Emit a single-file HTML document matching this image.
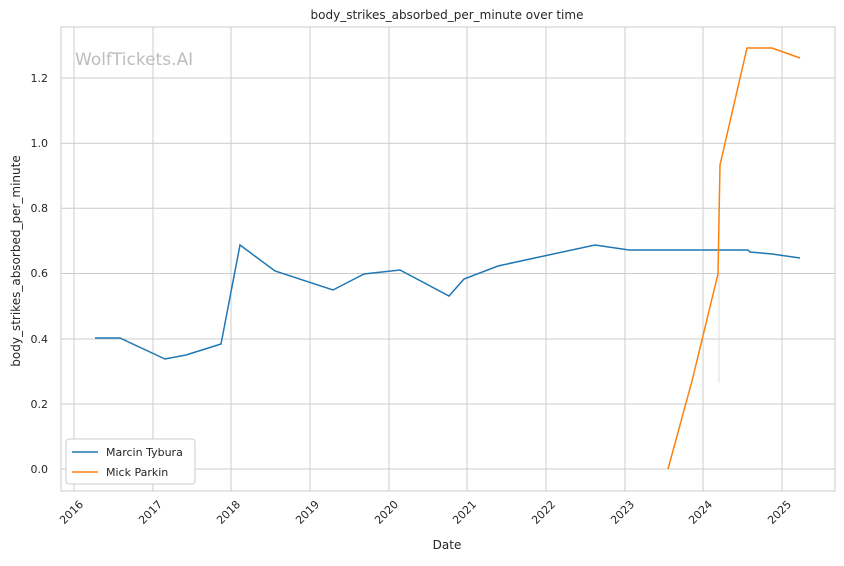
<!DOCTYPE html>
<html><head><meta charset="utf-8"><style>
body{margin:0;background:#fff;}
svg text{font-family:"DejaVu Sans","Liberation Sans",sans-serif;fill:#262626;}
</style></head><body>
<svg width="844" height="561" viewBox="0 0 844 561" xmlns="http://www.w3.org/2000/svg">
<rect width="844" height="561" fill="#fff"/>
<g stroke="#cccccc" stroke-width="1">
<line x1="74" y1="27" x2="74" y2="491"/><line x1="153" y1="27" x2="153" y2="491"/>
<line x1="231" y1="27" x2="231" y2="491"/><line x1="310" y1="27" x2="310" y2="491"/>
<line x1="389" y1="27" x2="389" y2="491"/><line x1="467" y1="27" x2="467" y2="491"/>
<line x1="546" y1="27" x2="546" y2="491"/><line x1="625" y1="27" x2="625" y2="491"/>
<line x1="703" y1="27" x2="703" y2="491"/><line x1="782" y1="27" x2="782" y2="491"/>
<line x1="61" y1="469" x2="835" y2="469"/><line x1="61" y1="404" x2="835" y2="404"/>
<line x1="61" y1="339" x2="835" y2="339"/><line x1="61" y1="273.5" x2="835" y2="273.5"/>
<line x1="61" y1="208.3" x2="835" y2="208.3"/><line x1="61" y1="143.2" x2="835" y2="143.2"/>
<line x1="61" y1="78" x2="835" y2="78"/>
</g>
<rect x="61" y="27" width="774" height="464" fill="none" stroke="#cccccc" stroke-width="1"/>
<text x="75" y="65" font-size="17" style="fill:#bdbdbd">WolfTickets.AI</text>
<line x1="719" y1="274" x2="719" y2="383" stroke="#dddddd" stroke-width="1"/>
<polyline fill="none" stroke="#1f77b4" stroke-width="1.5" points="95,338 120,338 165,359 186,355 221,344 240,245 275,271 333,290 364,274 400,270 449,296 464,279 498,266 530,259 595,245 629,250 700,250 748,250 750,252 772,254 800,258"/>
<polyline fill="none" stroke="#ff7f0e" stroke-width="1.5" points="668,469 692,381 718,274 720,165 747,48 772,48 800,58"/>
<g font-size="11" text-anchor="end">
<text x="48" y="473">0.0</text><text x="48" y="408">0.2</text><text x="48" y="343">0.4</text>
<text x="48" y="277">0.6</text><text x="48" y="212">0.8</text><text x="48" y="147">1.0</text><text x="48" y="82">1.2</text>
</g>
<g font-size="11" text-anchor="end">
<text transform="translate(84,505) rotate(-45)">2016</text>
<text transform="translate(163,505) rotate(-45)">2017</text>
<text transform="translate(241,505) rotate(-45)">2018</text>
<text transform="translate(320,505) rotate(-45)">2019</text>
<text transform="translate(399,505) rotate(-45)">2020</text>
<text transform="translate(477,505) rotate(-45)">2021</text>
<text transform="translate(556,505) rotate(-45)">2022</text>
<text transform="translate(635,505) rotate(-45)">2023</text>
<text transform="translate(713,505) rotate(-45)">2024</text>
<text transform="translate(792,505) rotate(-45)">2025</text>
</g>
<text x="447" y="549" font-size="12" text-anchor="middle">Date</text>
<text transform="translate(20,261) rotate(-90)" font-size="12" text-anchor="middle">body_strikes_absorbed_per_minute</text>
<text x="447" y="19" font-size="12" text-anchor="middle">body_strikes_absorbed_per_minute over time</text>
<rect x="66" y="439" width="129" height="45" rx="3" fill="#fff" stroke="#cccccc"/>
<line x1="72" y1="452" x2="98" y2="452" stroke="#1f77b4" stroke-width="1.5"/>
<text x="106" y="456" font-size="11">Marcin Tybura</text>
<line x1="72" y1="472" x2="98" y2="472" stroke="#ff7f0e" stroke-width="1.5"/>
<text x="106" y="476" font-size="11">Mick Parkin</text>
</svg>
</body></html>
